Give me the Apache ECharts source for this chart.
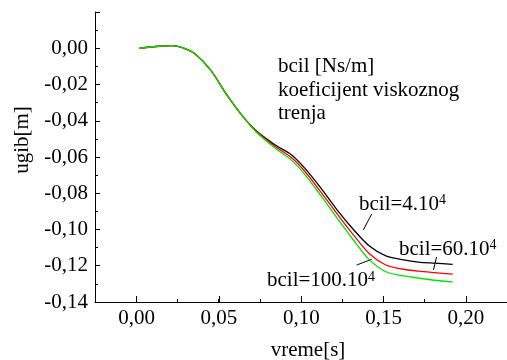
<!DOCTYPE html>
<html><head><meta charset="utf-8">
<script src="https://cdn.jsdelivr.net/npm/echarts@6/dist/echarts.min.js"></script>
<style>html,body{margin:0;padding:0;background:#fff}#c{width:507px;height:360px}</style>
</head><body><div id="c"></div>
<script>
const time = [0.002,0.0138,0.0214,0.028,0.0354,0.0452,0.0551,0.0649,0.0728,0.0846,0.0945,0.1024,0.1122,0.122,0.1318,0.1417,0.1515,0.1614,0.1712,0.181,0.192];
const bcil4 = [0,0.0011,0.0015,0.0004,-0.0029,-0.0121,-0.0259,-0.0379,-0.0455,-0.0535,-0.0590,-0.0663,-0.0773,-0.0893,-0.1000,-0.1093,-0.1146,-0.1166,-0.1180,-0.1186,-0.1192];
const bcil60 = [0,0.0011,0.0015,0.0004,-0.0029,-0.0121,-0.0259,-0.0379,-0.0458,-0.0544,-0.0605,-0.0680,-0.0795,-0.0915,-0.1030,-0.1135,-0.1196,-0.1218,-0.1230,-0.1238,-0.1246];
const bcil100 = [0,0.0011,0.0015,0.0004,-0.0029,-0.0121,-0.0259,-0.0379,-0.0462,-0.0553,-0.0620,-0.0697,-0.0815,-0.0938,-0.1058,-0.1169,-0.1233,-0.1255,-0.1268,-0.1280,-0.1289];
const xTicks = [0, 0.05, 0.10, 0.15, 0.20];
const yTicks = [0, -0.02, -0.04, -0.06, -0.08, -0.10, -0.12, -0.14];

const font = '"Liberation Serif", "Times New Roman", serif';
const fs = 21;
const fmt = v => v.toFixed(2).replace('.', ',');
const pair = (xs, ys) => xs.map((x, i) => [x, ys[i]]);
const chart = echarts.init(document.getElementById('c'));
const lineSeries = (name, data, color) => ({
  name, type: 'line', data: pair(time, data), smooth: 0.3, showSymbol: false,
  lineStyle: { color, width: 1.3 }, xAxisIndex: 0, yAxisIndex: 0, z: 3
});
const supRich = {
  a: { fontFamily: font, fontSize: fs, color: '#000' },
  s: { fontFamily: font, fontSize: 14, verticalAlign: 'top', color: '#000' }
};
chart.setOption({
  animation: false,
  textStyle: { fontFamily: font },
  grid: [
    { left: 95, right: -10.9, top: 12, bottom: 58 },
    { left: 136.7, right: -10.9, top: 12, bottom: 58 }
  ],
  xAxis: [
    { type: 'value', gridIndex: 0, min: -0.025, max: 0.225, interval: 0.025,
      axisLine: { onZero: false, lineStyle: { color: '#000', width: 1 } },
      axisTick: { inside: true, length: 3, lineStyle: { color: '#000' } },
      axisLabel: { show: false }, splitLine: { show: false } },
    { type: 'value', gridIndex: 1, min: 0, max: 0.225, interval: 0.05,
      axisLine: { show: false, onZero: false },
      axisTick: { inside: true, length: 6, lineStyle: { color: '#000' } },
      axisLabel: { show: true, showMaxLabel: false, margin: 6, color: '#000', fontFamily: font, fontSize: fs,
        formatter: v => xTicks.some(t => Math.abs(t - v) < 1e-9) ? fmt(v) : '' },
      splitLine: { show: false } }
  ],
  yAxis: [
    { type: 'value', gridIndex: 0, min: -0.14, max: 0.02, interval: 0.02,
      axisLine: { show: true, onZero: false, lineStyle: { color: '#000', width: 1 } },
      axisTick: { show: true, inside: true, length: 5, lineStyle: { color: '#000' } },
      minorTick: { show: true, splitNumber: 2, length: 3, lineStyle: { color: '#000' } },
      axisLabel: { color: '#000', fontFamily: font, fontSize: fs, margin: 7,
        formatter: v => yTicks.some(t => Math.abs(t - v) < 1e-9) ? fmt(v) : '' },
      splitLine: { show: false } },
    { type: 'value', gridIndex: 1, min: -0.14, max: 0.02, show: false }
  ],
  series: [
    lineSeries('bcil=4.10^4', bcil4, '#000000'),
    lineSeries('bcil=60.10^4', bcil60, '#ff0000'),
    lineSeries('bcil=100.10^4', bcil100, '#00e000')
  ],
  graphic: [
    { type: 'text', x: 22, y: 140, rotation: Math.PI / 2,
      style: { text: 'ugib[m]', fontFamily: font, fontSize: fs, fill: '#000', align: 'center', verticalAlign: 'middle' } },
    { type: 'text', x: 308, y: 350,
      style: { text: 'vreme[s]', fontFamily: font, fontSize: fs, fill: '#000', align: 'center', verticalAlign: 'middle' } },
    { type: 'text', x: 278, y: 55,
      style: { text: 'bcil [Ns/m]\nkoeficijent viskoznog\ntrenja', fontFamily: font, fontSize: fs, lineHeight: 23.5, fill: '#000' } },
    { type: 'text', x: 359, y: 193.5, style: { text: '{a|bcil=4.10}{s|4}', rich: supRich } },
    { type: 'text', x: 399, y: 238.5, style: { text: '{a|bcil=60.10}{s|4}', rich: supRich } },
    { type: 'text', x: 267, y: 270, style: { text: '{a|bcil=100.10}{s|4}', rich: supRich } },
    { type: 'line', shape: { x1: 371.7, y1: 214, x2: 363.3, y2: 230 }, style: { stroke: '#000', lineWidth: 1 } },
    { type: 'line', shape: { x1: 436.5, y1: 257, x2: 433.5, y2: 270 }, style: { stroke: '#000', lineWidth: 1 } },
    { type: 'line', shape: { x1: 356.7, y1: 265, x2: 371.7, y2: 259.3 }, style: { stroke: '#000', lineWidth: 1 } }
  ]
});
</script></body></html>
